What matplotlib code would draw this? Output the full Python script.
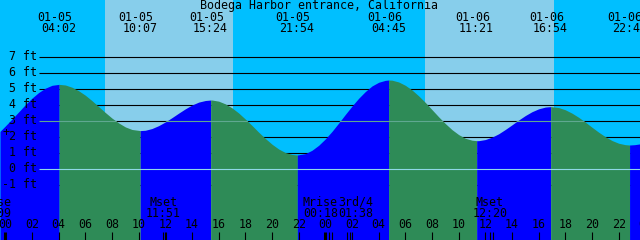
import matplotlib
matplotlib.use("Agg")
import matplotlib.pyplot as plt
import matplotlib.transforms as mtransforms
from matplotlib.patches import Polygon

title = "Bodega Harbor entrance, California"

hours = [-0.4, 0, 0.5, 1, 1.5, 2, 2.5, 3, 3.5, 4.033, 4.5, 5, 5.5, 6, 6.5, 7, 7.5, 8, 8.5,
         9, 9.5, 10.117, 10.5, 11, 11.5, 12, 12.5, 13, 13.5, 14, 14.5, 15, 15.4, 15.5,
         16, 16.5, 17, 17.5, 18, 18.5, 19, 19.5, 20, 20.5, 21, 21.5, 21.9, 22.5, 23,
         23.5, 24, 24.5, 25, 25.5, 26, 26.5, 27, 27.5, 28, 28.5, 28.75, 29, 29.5, 30,
         30.5, 31, 31.5, 32, 32.5, 33, 33.5, 34, 34.5, 35, 35.35, 35.5, 36, 36.5, 37,
         37.5, 38, 38.5, 39, 39.5, 40, 40.5, 40.9, 41.5, 42, 42.5, 43, 43.5, 44, 44.5,
         45, 45.5, 46, 46.5, 46.82, 47.2, 47.6]
feet = [2.35, 2.69, 3.12, 3.57, 4.02, 4.43, 4.78, 5.05, 5.23, 5.29, 5.25, 5.11, 4.89, 4.61,
        4.27, 3.90, 3.53, 3.18, 2.88, 2.63, 2.47, 2.40, 2.42, 2.53, 2.71, 2.94, 3.21, 3.49,
        3.76, 4.00, 4.18, 4.28, 4.31, 4.31, 4.24, 4.07, 3.82, 3.50, 3.12, 2.72, 2.30, 1.91,
        1.55, 1.25, 1.03, 0.91, 0.875, 0.96, 1.17, 1.48, 1.88, 2.35, 2.87, 3.41, 3.93, 4.42,
        4.84, 5.19, 5.42, 5.54, 5.56, 5.55, 5.44, 5.23, 4.94, 4.57, 4.16, 3.71, 3.26, 2.84,
        2.46, 2.15, 1.92, 1.80, 1.77, 1.77, 1.84, 1.99, 2.20, 2.47, 2.76, 3.06, 3.34, 3.58,
        3.76, 3.87, 3.90, 3.84, 3.70, 3.49, 3.23, 2.93, 2.61, 2.30, 2.02, 1.78, 1.61, 1.52,
        1.50, 1.52, 1.57]

# high / low water events
event_hours = [4.033, 10.117, 15.4, 21.9, 28.75, 35.35, 40.9, 46.82]
event_dates = ["01-05", "01-05", "01-05", "01-05", "01-06", "01-06", "01-06", "01-06"]
event_times = ["04:02", "10:07", "15:24", "21:54", "04:45", "11:21", "16:54", "22:49"]

sunrise = [7.48, 31.48]
sunset = [17.08, 41.15]

moon_hours = [-0.85, 11.85, 24.3, 25.633, 36.333]
moon_names = ["Mrise", "Mset", "Mrise", "3rd/4", "Mset"]
moon_times = ["23:09", "11:51", "00:18", "01:38", "12:20"]
moon_shift = [0, 0, -9, 9, 0]   # px, labels pushed apart

levels = [-1, 0, 1, 2, 3, 4, 5, 6, 7]

night = "#00bfff"
day = "#87ceeb"
rising = "#0000ff"
falling = "#2e8b57"

W, H = 640, 240
pph = 13.333          # pixels per hour
ppf = 16.0            # pixels per foot
x0 = -0.4
y_top = 169 / ppf     # 0 ft sits 169 px from the top

font = dict(family="DejaVu Sans Mono", fontsize=8.4, color="black")

fig = plt.figure(figsize=(6.4, 2.4), dpi=100, facecolor=night)
ax = fig.add_axes([0, 0, 1, 1])
ax.set_xlim(x0, x0 + W / pph)
ax.set_ylim(y_top - H / ppf, y_top)
ax.set_axis_off()

def px(v):
    return v / pph

def yf(ypix):
    return 1 - ypix / H

for a, b in zip(sunrise, sunset):
    ax.axvspan(a, b, color=day, lw=0, zorder=0)

# depth lines (visible above the water)
ax.hlines(levels, x0 + px(39), x0 + W / pph, color="black", lw=0.8, zorder=2)

# water, coloured by rising / falling
bounds = [hours[0]] + event_hours + [hours[-1]]
for a, b in zip(bounds[:-1], bounds[1:]):
    tt = [t for t in hours if a <= t <= b]
    hh = [f for t, f in zip(hours, feet) if a <= t <= b]
    col = rising if hh[-1] > hh[0] else falling
    ax.fill_between(tt, hh, y_top - H / ppf - 1, color=col, lw=0, zorder=3)

verts = list(zip(hours, feet)) + [(hours[-1], -10), (hours[0], -10)]
water = Polygon(verts, closed=True, facecolor="none", edgecolor="none",
                transform=ax.transData)
ax.add_patch(water)
for lv, c in [(0, "#8fd8e8"), (3, "#5fa890")]:
    ln = ax.hlines(lv, x0 + px(39), x0 + W / pph, color=c, lw=0.8, zorder=4)
    ln.set_clip_path(water)

ylab = mtransforms.blended_transform_factory(ax.transAxes, ax.transData)
for lv in levels:
    ax.text(37 / W, lv + 0.06, f"{lv} ft", ha="right", va="center",
            transform=ylab, zorder=5, **font)
ax.text(6 / W, yf(132.7), "+", ha="center", va="center",
        transform=ax.transAxes, zorder=6, **font)

# title and tide event labels
ax.text(319 / W, yf(6), title, ha="center", va="center", transform=ax.transAxes, **font)
top = mtransforms.blended_transform_factory(ax.transData, ax.transAxes)
for t, d, s in zip(event_hours, event_dates, event_times):
    ax.text(t - px(4.4), yf(17.5), d, ha="center", va="center", transform=top, **font)
    ax.text(t - px(0.3), yf(29), s, ha="center", va="center", transform=top, **font)

# moon events
for t, n, s, sh in zip(moon_hours, moon_names, moon_times, moon_shift):
    ax.text(t + px(sh), yf(202), n, ha="center", va="center", transform=top, zorder=6, **font)
    ax.text(t + px(sh), yf(213.5), s, ha="center", va="center", transform=top, zorder=6, **font)
    ax.vlines([t, t + px(3)], yf(240), yf(232), color="black", lw=0.8,
              transform=top, zorder=6)

# hour ticks
for h in range(0, 50, 2):
    ax.text(h, yf(225), f"{h % 24:02d}", ha="center", va="center", transform=top,
            zorder=6, **font)
    lw = 2.2 if h % 24 == 0 else 0.8
    ax.vlines(h, yf(240), yf(232), color="black", lw=lw, transform=top, zorder=6)

fig.savefig("out.png", dpi=100, facecolor=night)
